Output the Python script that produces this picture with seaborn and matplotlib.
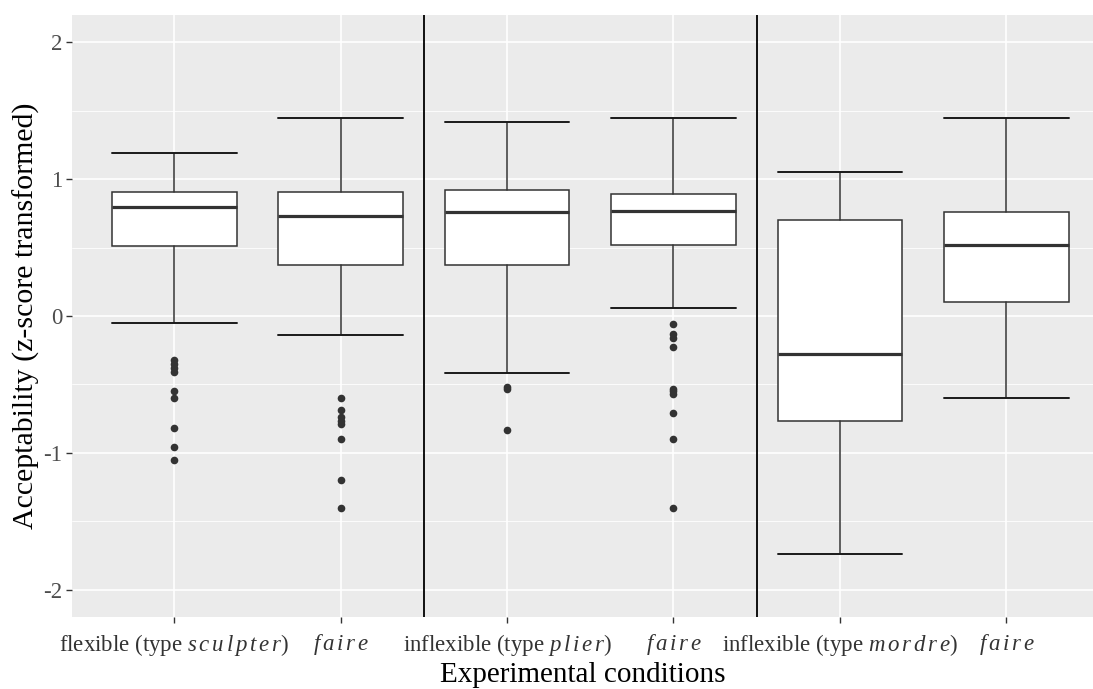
import numpy as np
import pandas as pd
import matplotlib
matplotlib.use("Agg")
import matplotlib.pyplot as plt
from matplotlib.ticker import MultipleLocator
import seaborn as sns

sns.set_theme(style="darkgrid", rc={"axes.facecolor": "#EBEBEB", "grid.color": "white"})
plt.rcParams['font.family'] = ['Liberation Serif', 'DejaVu Serif']
plt.rcParams['mathtext.fontset'] = 'custom'
plt.rcParams['mathtext.rm'] = 'Liberation Serif'
plt.rcParams['mathtext.it'] = 'Liberation Serif:italic'

# conditions (x axis)
labels = [r"flexible (type $s\,c\,u\,l\,p\,t\,e\,r$)", r"$f\,a\,i\,r\,e$",
          r"inflexible (type $p\,l\,i\,e\,r$)", r"$f\,a\,i\,r\,e$",
          r"inflexible (type $m\,o\,r\,d\,r\,e$)", r"$f\,a\,i\,r\,e$"]
cond = ["flex", "flex_faire", "plier", "plier_faire", "mordre", "mordre_faire"]

# box statistics
whishi = [1.19, 1.45, 1.42, 1.45, 1.05, 1.45]
q3 = [0.91, 0.91, 0.92, 0.89, 0.70, 0.76]
med = [0.80, 0.73, 0.76, 0.77, -0.28, 0.52]
q1 = [0.51, 0.37, 0.37, 0.52, -0.77, 0.10]
whislo = [-0.05, -0.14, -0.42, 0.06, -1.74, -0.60]

# outliers per condition
out_flex = [-0.32, -0.35, -0.38, -0.41, -0.55, -0.60, -0.82, -0.96, -1.05]
out_flex_faire = [-0.60, -0.69, -0.74, -0.77, -0.79, -0.90, -1.20, -1.40]
out_plier = [-0.52, -0.53, -0.83]
out_plier_faire = [-0.06, -0.13, -0.16, -0.23, -0.53, -0.55, -0.57, -0.71, -0.90, -1.40]
out_mordre = []
out_mordre_faire = []
outliers = [out_flex, out_flex_faire, out_plier, out_plier_faire, out_mordre, out_mordre_faire]

df_out = pd.DataFrame({
    "cond": [c for c, o in zip(cond, outliers) for _ in o],
    "value": [v for o in outliers for v in o],
})

fig = plt.figure(figsize=(10.93, 6.89), dpi=100)
ax = fig.add_axes([0.0659, 0.1045, 0.9341, 0.8737])

sns.stripplot(data=df_out, x="cond", y="value", order=cond, jitter=False,
              color="#333333", size=5.5, linewidth=0, ax=ax, zorder=3)

stats = []
for i in range(len(cond)):
    stats.append(dict(med=med[i], q1=q1[i], q3=q3[i], whislo=whislo[i],
                      whishi=whishi[i], fliers=[]))
ax.bxp(stats, positions=range(len(cond)), widths=0.75, capwidths=0.75,
       showfliers=False, patch_artist=True, manage_ticks=False,
       boxprops=dict(facecolor="white", edgecolor="#333333", linewidth=1.1),
       medianprops=dict(color="#333333", linewidth=2.3),
       whiskerprops=dict(color="#333333", linewidth=1.1),
       capprops=dict(color="#1a1a1a", linewidth=1.4))

# separators
ax.axvline(1.5, color="black", linewidth=1.3, zorder=4)
ax.axvline(3.5, color="black", linewidth=1.3, zorder=4)

ax.set_xlim(-0.613, 5.52)
ax.set_ylim(-2.2, 2.2)
ax.set_yticks([-2, -1, 0, 1, 2])
ax.set_yticklabels(["-2", "-1", "0", "1", "2"])
ax.yaxis.set_minor_locator(MultipleLocator(0.5))
ax.grid(which="major", color="white", linewidth=1.2)
ax.grid(which="minor", axis="y", color="white", linewidth=0.6)
ax.set_xticks(range(len(cond)))
ax.set_xticklabels(labels)
for s in ax.spines.values():
    s.set_visible(False)
ax.tick_params(bottom=True, left=True, length=4, width=1, color="#333333",
               labelsize=16.5, labelcolor="#4D4D4D", pad=3)
ax.tick_params(axis="x", labelcolor="#333333", pad=7)
ax.set_xlabel("Experimental conditions", fontsize=21, color="black", labelpad=3)
ax.set_ylabel("Acceptability (z-score transformed)", fontsize=21.5, color="black", labelpad=2)

fig.savefig("out.png", dpi=100)
